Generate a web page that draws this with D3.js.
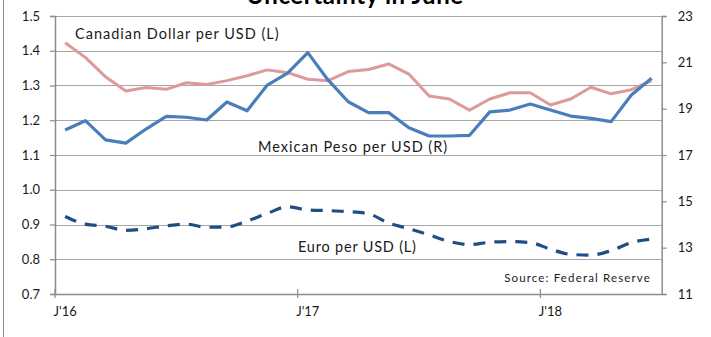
<!DOCTYPE html>
<html>
<head>
<meta charset="utf-8">
<script src="https://cdn.jsdelivr.net/npm/d3@7"></script>
<style>
  body { margin: 0; background: #fff; }
  svg { display: block; font-family: Lato, "Open Sans", sans-serif; }
</style>
</head>
<body>
<svg id="chart" width="711" height="337"></svg>
<script>
// monthly, Jan 2016 .. Jun 2018
const months = d3.range(30);
const tickLabels = ["J'16", "J'17", "J'18"];
const tickMonths = [0, 12, 24];

const cad = [1.423, 1.381, 1.325, 1.284, 1.294, 1.289, 1.308, 1.303, 1.314, 1.328,
  1.345, 1.337, 1.318, 1.314, 1.340, 1.346, 1.362, 1.333, 1.270, 1.261,
  1.229, 1.261, 1.279, 1.279, 1.244, 1.261, 1.295, 1.276, 1.288, 1.314];
const mxn = [18.08, 18.48, 17.65, 17.51, 18.12, 18.67, 18.63, 18.51, 19.29, 18.91,
  20.02, 20.53, 21.42, 20.24, 19.30, 18.83, 18.83, 18.18, 17.82, 17.82,
  17.85, 18.86, 18.94, 19.20, 18.94, 18.68, 18.58, 18.44, 19.59, 20.31];
const eur = [0.923, 0.901, 0.895, 0.883, 0.888, 0.896, 0.901, 0.892, 0.893, 0.910,
  0.932, 0.951, 0.942, 0.940, 0.937, 0.931, 0.904, 0.888, 0.870, 0.851,
  0.842, 0.849, 0.851, 0.848, 0.829, 0.814, 0.812, 0.825, 0.848, 0.858];

const leftTicks = [0.7, 0.8, 0.9, 1.0, 1.1, 1.2, 1.3, 1.4, 1.5];
const rightTicks = [11, 13, 15, 17, 19, 21, 23];

const svg = d3.select("#chart");
const m = { left: 55, right: 661.7, top: 16, bottom: 294 };

const x = d3.scaleBand().domain(months).range([m.left, m.right]).padding(0);
const cx = i => x(i) + x.bandwidth() / 2;
const yL = d3.scaleLinear().domain([0.7, 1.5]).range([m.bottom, m.top]);
const yR = d3.scaleLinear().domain([11, 23]).range([m.bottom, m.top]);

// frame edge on the left
svg.append("line")
  .attr("x1", 3.5).attr("x2", 3.5).attr("y1", 0).attr("y2", 337)
  .attr("stroke", "#8c8c8c");

// title (cut off at the top, as in the source)
svg.append("text")
  .attr("x", 355).attr("y", 4)
  .attr("text-anchor", "middle")
  .attr("font-size", 24).attr("font-weight", "bold")
  .attr("letter-spacing", 0.6)
  .attr("fill", "#000")
  .text("Uncertainty in June");

// gridlines
svg.append("g")
  .selectAll("line")
  .data(leftTicks.slice(1))
  .join("line")
  .attr("x1", m.left).attr("x2", m.right)
  .attr("y1", d => Math.round(yL(d)) + 0.5).attr("y2", d => Math.round(yL(d)) + 0.5)
  .attr("stroke", "#a6a6a6").attr("stroke-width", 1.2);

// left axis
const gl = svg.append("g")
  .attr("transform", `translate(${m.left},0)`)
  .call(d3.axisLeft(yL).tickValues(leftTicks).tickFormat(d3.format(".1f")).tickSize(5).tickPadding(10));
// right axis
const gr = svg.append("g")
  .attr("transform", `translate(${m.right},0)`)
  .call(d3.axisRight(yR).tickValues(rightTicks).tickSize(5).tickPadding(11));
// bottom axis
const gb = svg.append("g")
  .attr("transform", `translate(0,${m.bottom})`)
  .call(d3.axisBottom(x).tickValues([]).tickSizeOuter(0));
gb.selectAll(".tk")
  .data(tickMonths)
  .join("line")
  .attr("x1", d => x(d)).attr("x2", d => x(d))
  .attr("y1", -5).attr("y2", 4);
gb.selectAll(".lb")
  .data(tickMonths)
  .join("text")
  .attr("x", d => cx(d)).attr("y", 22)
  .attr("text-anchor", "middle")
  .text((d, i) => tickLabels[i]);

for (const g of [gl, gr, gb]) {
  g.selectAll("path.domain").attr("stroke", "#8c8c8c").attr("stroke-width", 1.5);
  g.selectAll("line").attr("stroke", "#8c8c8c").attr("stroke-width", 1.2);
  g.selectAll("text").attr("font-size", 13).attr("fill", "#1a1a1a").attr("font-family", "Lato, sans-serif");
}

// series
const lineL = d3.line().x((d, i) => cx(i)).y(d => yL(d));
const lineR = d3.line().x((d, i) => cx(i)).y(d => yR(d));

svg.append("path").datum(cad)
  .attr("d", lineL)
  .attr("fill", "none").attr("stroke", "#dc9b9a").attr("stroke-width", 3)
  .attr("stroke-linejoin", "round");

svg.append("path").datum(eur)
  .attr("d", lineL.curve(d3.curveMonotoneX))
  .attr("fill", "none").attr("stroke", "#1f4e85").attr("stroke-width", 3.2)
  .attr("stroke-dasharray", "12 9");

svg.append("path").datum(mxn)
  .attr("d", lineR)
  .attr("fill", "none").attr("stroke", "#4a7ebb").attr("stroke-width", 3.2)
  .attr("stroke-linejoin", "round");

// labels
const labels = [
  { t: "Canadian Dollar per USD (L)", x: 75, y: 39, ls: 1 },
  { t: "Mexican Peso per USD (R)", x: 258, y: 152, ls: 1 },
  { t: "Euro per USD (L)", x: 298, y: 252, ls: 0.8 }
];
svg.append("g").selectAll("text")
  .data(labels)
  .join("text")
  .attr("x", d => d.x).attr("y", d => d.y)
  .attr("font-size", 14.5)
  .attr("letter-spacing", d => d.ls)
  .attr("fill", "#1a1a1a")
  .text(d => d.t);

svg.append("text")
  .attr("x", 651).attr("y", 282)
  .attr("text-anchor", "end")
  .attr("font-size", 11.5)
  .attr("letter-spacing", 1.15)
  .attr("fill", "#1a1a1a")
  .text("Source: Federal Reserve");
</script>
</body>
</html>
